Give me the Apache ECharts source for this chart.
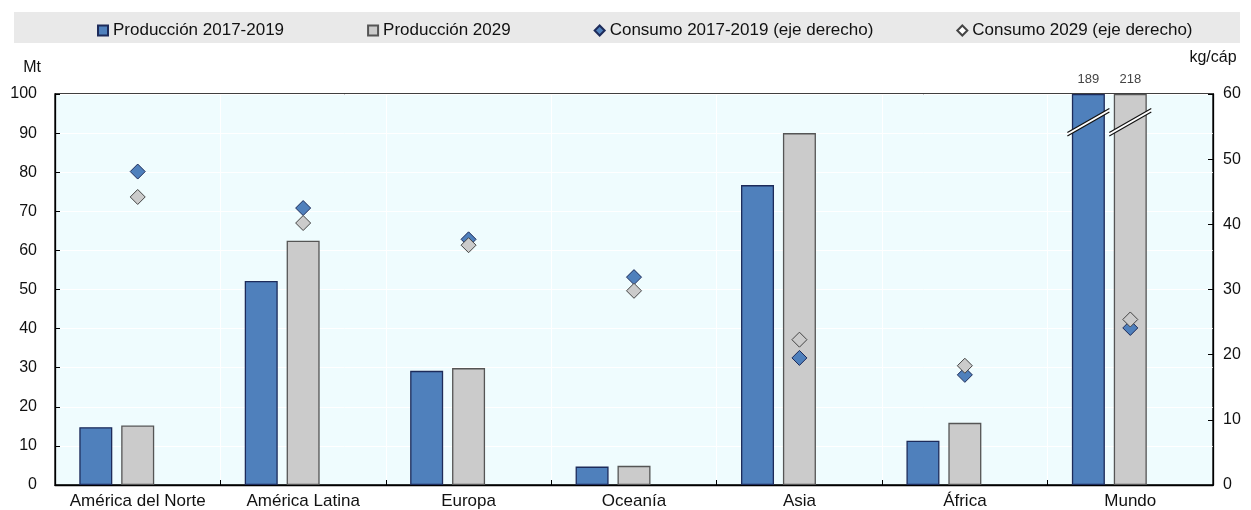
<!DOCTYPE html>
<html>
<head>
<meta charset="utf-8">
<script src="https://cdn.jsdelivr.net/npm/echarts@6/dist/echarts.min.js"></script>
<style>
  html, body { margin: 0; padding: 0; background: #fff; }
  #chart { width: 1251px; height: 510px; }
</style>
</head>
<body>
<div id="chart"></div>
<script>
// regiones y valores
var regiones = ['América del Norte', 'América Latina', 'Europa', 'Oceanía', 'Asia', 'África', 'Mundo'];
var prod2019 = [14.8, 52.2, 29.2, 4.7, 76.7, 11.3, 189];   // Mt
var prod2029 = [15.2, 62.5, 29.9, 4.9, 90.0, 15.9, 218];   // Mt
var cons2019 = [48.1, 42.5, 37.7, 31.9, 19.5, 16.9, 24.1]; // kg/cáp
var cons2029 = [44.2, 40.2, 36.8, 29.8, 22.3, 18.3, 25.4]; // kg/cáp
var ejeIzqMax = 100;
var ejeDerMax = 60;

var fuente = 'Liberation Sans';
var azul = '#4f80bc';
var gris = '#cbcbcb';

// las barras que pasan del máximo se cortan en el tope del eje
function recortar(arr) {
    return arr.map(function (v) { return Math.min(v, ejeIzqMax); });
}
function etiqueta(arr) {
    return {
        show: true,
        position: 'top',
        distance: 8,
        fontFamily: fuente,
        fontSize: 13,
        color: '#444',
        formatter: function (p) {
            return arr[p.dataIndex] > ejeIzqMax ? String(arr[p.dataIndex]) : '';
        }
    };
}

var myChart = echarts.init(document.getElementById('chart'));
myChart.setOption({
    animation: false,
    textStyle: { fontFamily: fuente },
    legend: {
        show: true,
        data: [
            { name: 'Producción 2017-2019', icon: 'rect' },
            { name: 'Producción 2029', icon: 'rect' },
            { name: 'Consumo 2017-2019 (eje derecho)', icon: 'diamond' },
            { name: 'Consumo 2029 (eje derecho)', icon: 'diamond', itemStyle: { color: '#ffffff' } }
        ],
        left: 92,
        top: 17,
        itemWidth: 10,
        itemHeight: 10,
        itemGap: 83,
        textStyle: { fontSize: 17, color: '#111' }
    },
    grid: {
        left: 55,
        right: 38,
        top: 94,
        bottom: 25,
        show: true,
        backgroundColor: '#effcfe',
        borderColor: '#000',
        borderWidth: 1.3
    },
    xAxis: {
        type: 'category',
        data: regiones,
        axisLine: { lineStyle: { color: '#000', width: 1.3 } },
        axisTick: { show: true, inside: true, length: 5, lineStyle: { color: '#000' } },
        axisLabel: { fontSize: 17, color: '#111', margin: 8, interval: 0 },
        splitLine: { show: true, interval: 0, lineStyle: { color: '#ffffff', width: 1 } }
    },
    yAxis: [{
        type: 'value',
        min: 0,
        max: ejeIzqMax,
        interval: 10,
        name: 'Mt',
        nameLocation: 'end',
        nameGap: 18,
        nameTextStyle: { fontSize: 16, color: '#111', align: 'right', padding: [0, 14, 0, 0] },
        axisLine: { show: true, lineStyle: { color: '#000', width: 1.3 } },
        axisTick: { show: true, inside: true, length: 5, lineStyle: { color: '#000' } },
        axisLabel: { fontSize: 16, color: '#111', margin: 18 },
        splitLine: { show: true, lineStyle: { color: '#ffffff', width: 1 } }
    }, {
        type: 'value',
        position: 'right',
        min: 0,
        max: ejeDerMax,
        interval: 10,
        name: 'kg/cáp',
        nameLocation: 'end',
        nameGap: 28,
        nameTextStyle: { fontSize: 16, color: '#111', align: 'center' },
        axisLine: { show: true, lineStyle: { color: '#000', width: 1.3 } },
        axisTick: { show: true, inside: true, length: 5, lineStyle: { color: '#000' } },
        axisLabel: { fontSize: 16, color: '#111', margin: 10 },
        splitLine: { show: false }
    }],
    series: [{
        name: 'Producción 2017-2019',
        type: 'bar',
        yAxisIndex: 0,
        barWidth: 33,
        barGap: '27%',
        data: recortar(prod2019),
        itemStyle: { color: azul, borderColor: '#1d2b5a', borderWidth: 1.3 },
        label: etiqueta(prod2019)
    }, {
        name: 'Producción 2029',
        type: 'bar',
        yAxisIndex: 0,
        barWidth: 33,
        barGap: '27%',
        data: recortar(prod2029),
        itemStyle: { color: gris, borderColor: '#555', borderWidth: 1.3 },
        label: etiqueta(prod2029)
    }, {
        // hueco vacío: las barras quedan a la izquierda del centro
        name: 'hueco',
        type: 'bar',
        yAxisIndex: 0,
        barWidth: 33,
        barGap: '27%',
        silent: true,
        data: regiones.map(function () { return null; })
    }, {
        name: 'Consumo 2017-2019 (eje derecho)',
        type: 'scatter',
        yAxisIndex: 1,
        symbol: 'diamond',
        symbolSize: 15,
        data: cons2019,
        itemStyle: { color: azul, borderColor: '#1d2b5a', borderWidth: 1, opacity: 1 },
        z: 5
    }, {
        name: 'Consumo 2029 (eje derecho)',
        type: 'scatter',
        yAxisIndex: 1,
        symbol: 'diamond',
        symbolSize: 15,
        data: cons2029,
        itemStyle: { color: gris, borderColor: '#444', borderWidth: 1, opacity: 1 },
        z: 6
    }]
});

// banda gris de la leyenda y marcas de corte en las barras de Mundo
var graficos = [{
    type: 'rect',
    z: -10,
    silent: true,
    shape: { x: 14, y: 12, width: 1226, height: 31 },
    style: { fill: '#e9e9e9' }
}];
[0, 1].forEach(function (s) {
    var datos = myChart.getModel().getSeriesByIndex(s).getData();
    var lay = datos.getItemLayout(regiones.length - 1);
    var cx = lay.x + lay.width / 2;
    var cy = myChart.convertToPixel({ yAxisIndex: 0 }, 92.8);
    var dx = 21, dy = 12, g = 3.5;
    graficos.push({
        type: 'polygon',
        z: 50,
        shape: { points: [[cx - dx, cy + dy - g / 2], [cx + dx, cy - dy - g / 2], [cx + dx, cy - dy + g / 2], [cx - dx, cy + dy + g / 2]] },
        style: { fill: '#ffffff' }
    });
    graficos.push({
        type: 'line', z: 51,
        shape: { x1: cx - dx, y1: cy + dy - g / 2, x2: cx + dx, y2: cy - dy - g / 2 },
        style: { stroke: '#111', lineWidth: 1.2 }
    });
    graficos.push({
        type: 'line', z: 51,
        shape: { x1: cx - dx, y1: cy + dy + g / 2, x2: cx + dx, y2: cy - dy + g / 2 },
        style: { stroke: '#111', lineWidth: 1.2 }
    });
});
myChart.setOption({ graphic: graficos });
</script>
</body>
</html>
